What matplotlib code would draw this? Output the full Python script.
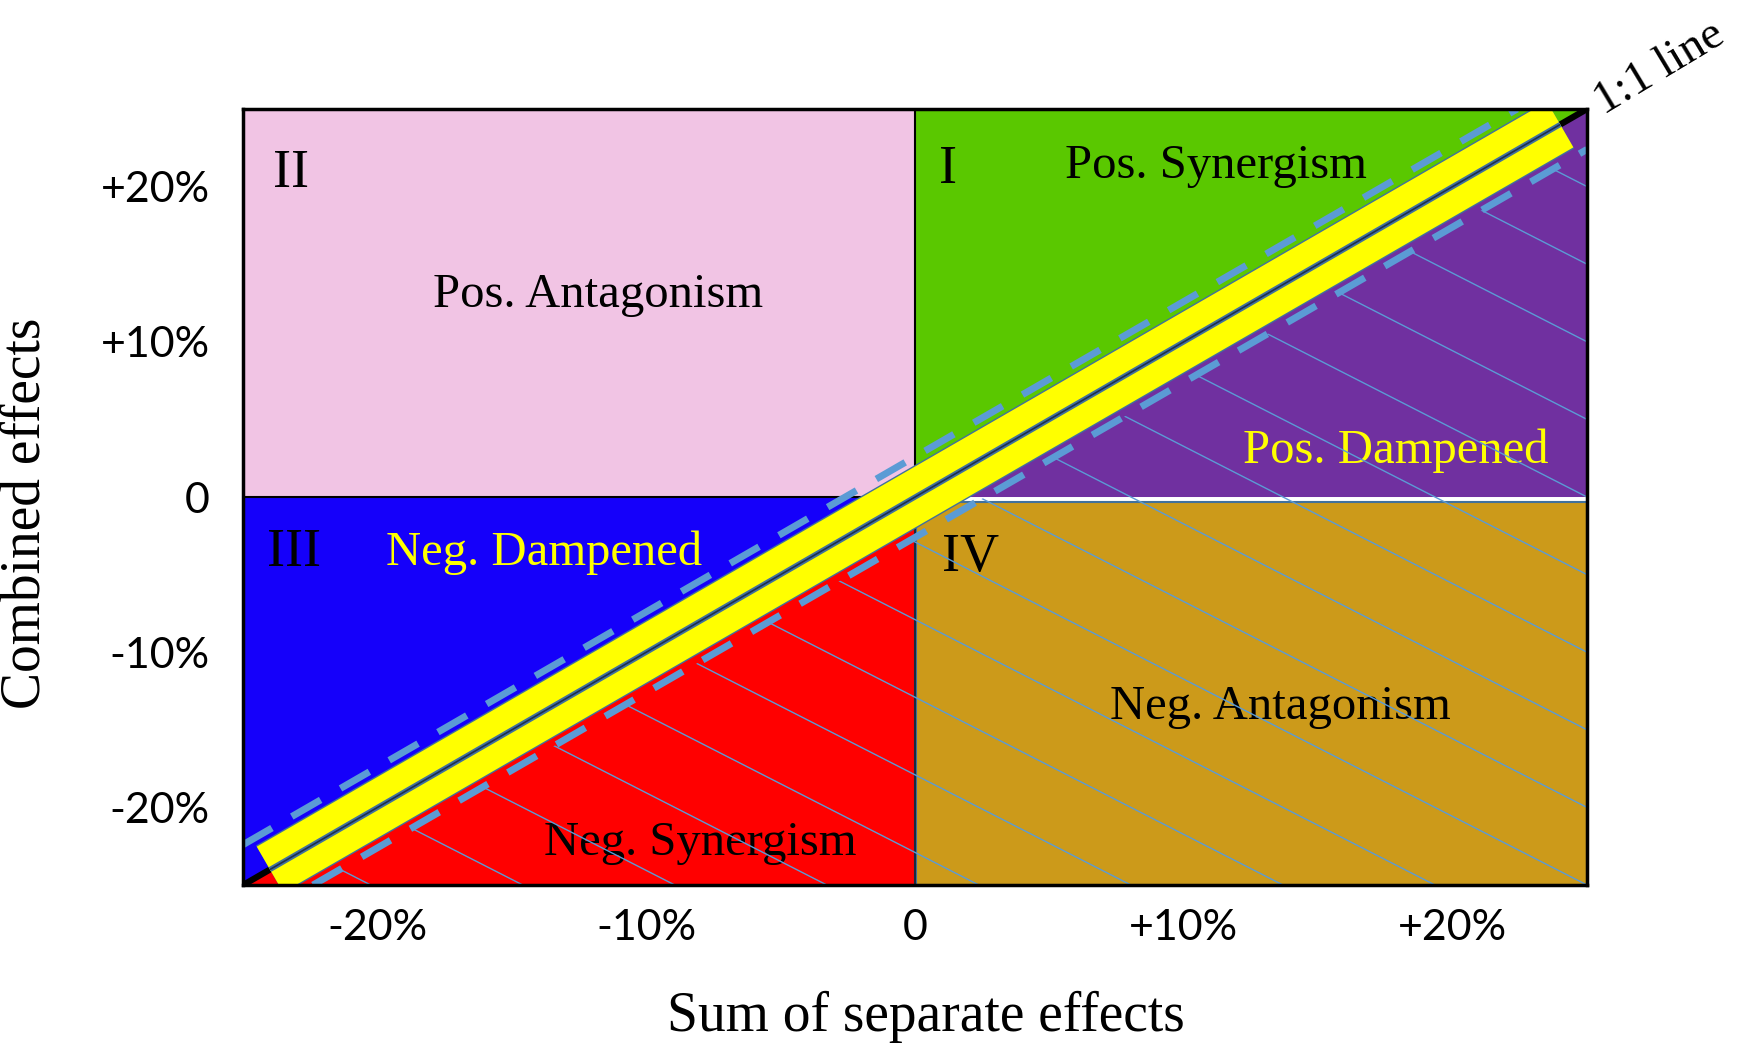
import numpy as np
import matplotlib.pyplot as plt
from matplotlib.patches import Polygon, Rectangle
import matplotlib.patheffects as pe

plt.rcParams['font.family'] = ['Liberation Serif', 'DejaVu Serif']

# axis range (percent) and ticks
lim = 25
ticks = [-20, -10, 0, 10, 20]
xtick_labels = ['-20%', '-10%', '0', '+10%', '+20%']
ytick_labels = ['-20%', '-10%', '0', '+10%', '+20%']

# quadrant numerals and effect names
numerals = ['I', 'II', 'III', 'IV']
effect_names = ['Pos. Synergism', 'Pos. Dampened', 'Pos. Antagonism',
                'Neg. Dampened', 'Neg. Synergism', 'Neg. Antagonism']

# colours
c_pink = '#F1C4E4'
c_green = '#5AC800'
c_purple = '#7030A0'
c_blue = '#1500FA'
c_red = '#FF0000'
c_brown = '#CC9A1A'
c_line = '#5B9BD5'
c_edge = '#41719C'

band_end = 24      # where the yellow band stops along the 1:1 line
dash_off = 2.6     # vertical offset of the dashed lines
hatch_slope = -0.884
hatch_step = 5.0

fig = plt.figure(figsize=(17.5, 10.49), dpi=100)
ax = fig.add_axes([0.1389, 0.1563, 0.768, 0.7398])
ax.set_xlim(-lim, lim)
ax.set_ylim(-lim, lim)

# regions
ax.add_patch(Rectangle((-lim, 0), lim, lim, fc=c_pink, ec='none', zorder=1))
ax.add_patch(Polygon([(0, 0), (0, lim), (lim, lim)], fc=c_green, ec='none', zorder=1))
ax.add_patch(Polygon([(0, 0), (lim, lim), (lim, 0)], fc=c_purple, ec='none', zorder=1))
ax.add_patch(Polygon([(-lim, 0), (0, 0), (-lim, -lim)], fc=c_blue, ec='none', zorder=1))
ax.add_patch(Polygon([(-lim, -lim), (0, 0), (0, -lim)], fc=c_red, ec='none', zorder=1))
ax.add_patch(Rectangle((0.05, -lim), lim - 0.05, lim - 0.35, fc=c_brown,
                       ec=c_edge, lw=1.5, zorder=1.2))

# quadrant dividers
ax.plot([0, 0], [0, lim], color='black', lw=1.5, zorder=1.5)
ax.plot([-lim, 0], [0, 0], color='black', lw=1.5, zorder=1.5)
ax.plot([0, 0], [-lim, 0], color='#1a2a40', lw=1.5, zorder=1.5)

# texts
big = 39
mid = 35
ax.text(-23.9, 20.8, 'II', fontsize=big, ha='left', va='center', zorder=2.5)
ax.text(0.9, 21.1, 'I', fontsize=big, ha='left', va='center', zorder=2.5)
ax.text(-24.1, -3.6, 'III', fontsize=big, ha='left', va='center', zorder=2.5)
ax.text(1.0, -3.9, 'IV', fontsize=big, ha='left', va='center', zorder=2.5)
ax.text(11.2, 21.3, effect_names[0], fontsize=mid, ha='center', va='center', zorder=2.5)
ax.text(17.9, 3.0, effect_names[1], fontsize=mid, ha='center', va='center',
        color='#FFFF00', zorder=2.5)
ax.text(-11.8, 13.0, effect_names[2], fontsize=mid, ha='center', va='center', zorder=2.5)
ax.text(-13.8, -3.6, effect_names[3], fontsize=mid, ha='center', va='center',
        color='#FFFF00', zorder=2.5)
ax.text(-8.0, -22.3, effect_names[4], fontsize=mid, ha='center', va='center', zorder=2.5)
ax.text(13.6, -13.5, effect_names[5], fontsize=mid, ha='center', va='center', zorder=2.5)

# hatching below the lower dashed line
hatch_clip = Polygon([(-lim + dash_off, -lim), (lim, lim - dash_off), (lim, -lim)],
                     fc='none', ec='none', transform=ax.transData)
ax.add_patch(hatch_clip)
c0 = -lim - hatch_slope * lim
for c in np.arange(c0 - 8 * hatch_step, c0 + 9.5 * hatch_step, hatch_step):
    hx = np.array([-lim, lim])
    ln, = ax.plot(hx, hatch_slope * hx + c, color=c_line, lw=1.0, zorder=3)
    ln.set_clip_path(hatch_clip)

# dashed envelope lines
dx = np.array([-lim, lim - dash_off])
ax.plot(dx, dx + dash_off, color=c_line, lw=5, ls=(0, (4.8, 3.3)), zorder=4)
dx = np.array([-lim + dash_off, lim])
ax.plot(dx, dx - dash_off, color=c_line, lw=5, ls=(0, (4.8, 3.3)), zorder=4)

# 1:1 line, visible beyond the band ends
ax.plot([-lim, lim], [-lim, lim], color='black', lw=4.5, zorder=4.5)

# yellow band along the 1:1 line
bx = [-band_end, band_end]
ax.plot(bx, bx, color='#FFFF00', lw=38, solid_capstyle='butt', zorder=5,
        path_effects=[pe.Stroke(linewidth=40, foreground=c_edge), pe.Normal()])
ax.plot(bx, bx, color=c_edge, lw=3.8, solid_capstyle='butt', zorder=6)
ax.plot(bx, bx, color='#1F2F4F', lw=1.2, solid_capstyle='butt', zorder=7)

ax.text(27.7, 27.6, '1:1 line', fontsize=34, rotation=31, ha='center', va='center',
        clip_on=False)

# axes styling
for s in ax.spines.values():
    s.set_linewidth(2.5)
    s.set_color('black')
    s.set_zorder(8)
ax.set_xticks(ticks, xtick_labels, fontfamily='Lato', fontsize=31)
ax.set_yticks(ticks, ytick_labels, fontfamily='Lato', fontsize=31)
ax.tick_params(axis='x', length=0, pad=17)
ax.tick_params(axis='y', length=0, pad=24)

fig.text(0.529, 0.031, 'Sum of separate effects', fontsize=40, ha='center', va='center')
fig.text(0.0143, 0.511, 'Combined effects', fontsize=40, rotation=90,
         ha='center', va='center')

fig.savefig('out.png', dpi=100)
